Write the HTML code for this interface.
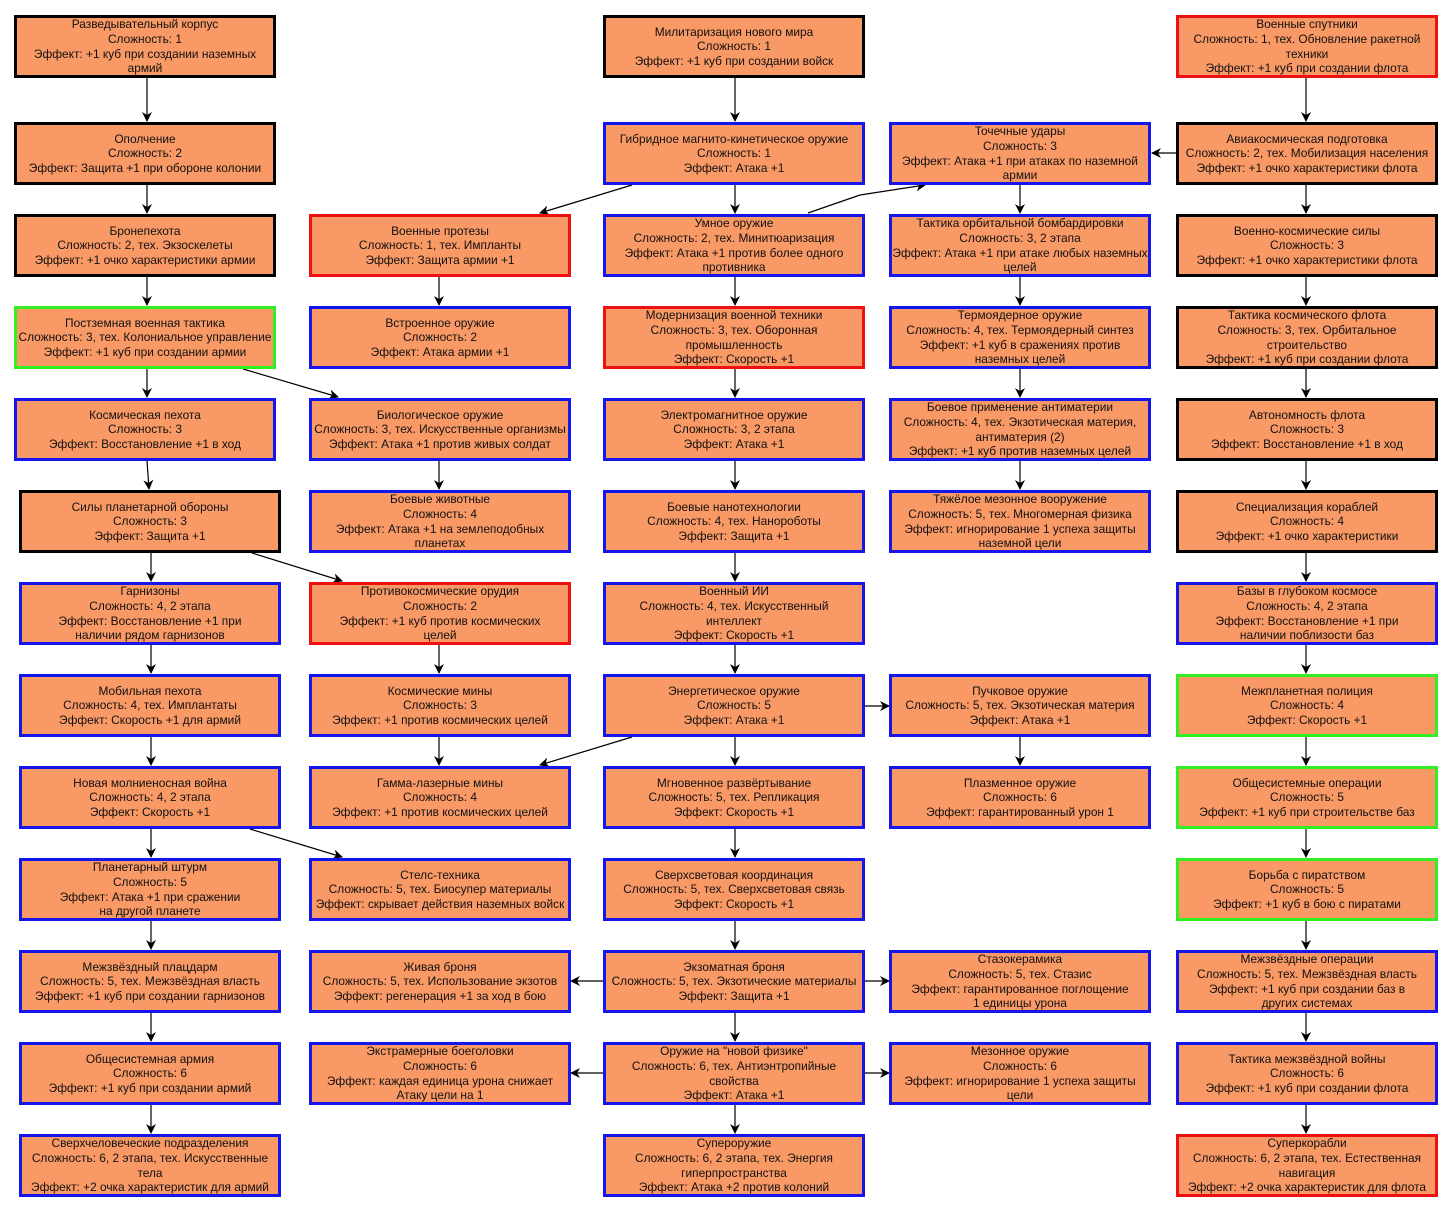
<!DOCTYPE html>
<html><head><meta charset="utf-8"><style>
body{margin:0;width:1452px;height:1213px;background:#fff;position:relative;overflow:hidden;font-family:"Liberation Sans",Arial,sans-serif}
.b{position:absolute;width:262px;height:63px;box-sizing:border-box;border:3px solid #000;background:#f99966;display:flex;flex-direction:column;justify-content:center;align-items:center;text-align:center;font-size:11.9px;line-height:14.6px;color:#111;overflow:hidden;white-space:nowrap}
.u{border-color:#1515ee}.r{border-color:#ee1111}.g{border-color:#33ee22}
svg{position:absolute;left:0;top:0}
</style></head><body>
<svg width="1452" height="1213"><defs><marker id="a" markerWidth="10" markerHeight="10" refX="9" refY="5" orient="auto" markerUnits="userSpaceOnUse"><path d="M0,0 L10,5 L0,10 L3,5 z" fill="#000"/></marker></defs>
<g stroke="#000" stroke-width="1.2" fill="none" marker-end="url(#a)">
<line x1="147" y1="78" x2="147" y2="121"/><line x1="147" y1="185" x2="147" y2="213"/><line x1="147" y1="277" x2="147" y2="305"/><line x1="147" y1="369" x2="147" y2="397"/><line x1="147" y1="461" x2="149" y2="489"/><line x1="151" y1="553" x2="151" y2="581"/><line x1="151" y1="645" x2="151" y2="673"/><line x1="151" y1="737" x2="151" y2="765"/><line x1="151" y1="829" x2="151" y2="857"/><line x1="151" y1="921" x2="151" y2="949"/><line x1="151" y1="1013" x2="151" y2="1041"/><line x1="151" y1="1105" x2="151" y2="1133"/>
<line x1="439" y1="277" x2="439" y2="305"/><line x1="439" y1="461" x2="439" y2="489"/><line x1="439" y1="645" x2="439" y2="673"/><line x1="439" y1="737" x2="439" y2="765"/>
<line x1="735" y1="78" x2="735" y2="121"/><line x1="735" y1="185" x2="735" y2="213"/><line x1="735" y1="277" x2="735" y2="305"/><line x1="735" y1="369" x2="735" y2="397"/><line x1="735" y1="461" x2="735" y2="489"/><line x1="735" y1="553" x2="735" y2="581"/><line x1="735" y1="645" x2="735" y2="673"/><line x1="735" y1="737" x2="735" y2="765"/><line x1="735" y1="829" x2="735" y2="857"/><line x1="735" y1="921" x2="735" y2="949"/><line x1="735" y1="1013" x2="735" y2="1041"/><line x1="735" y1="1105" x2="735" y2="1133"/>
<line x1="1020" y1="185" x2="1020" y2="213"/><line x1="1020" y1="277" x2="1020" y2="305"/><line x1="1020" y1="369" x2="1020" y2="397"/><line x1="1020" y1="461" x2="1020" y2="489"/><line x1="1020" y1="737" x2="1020" y2="765"/>
<line x1="1306" y1="78" x2="1306" y2="121"/><line x1="1306" y1="185" x2="1306" y2="213"/><line x1="1306" y1="277" x2="1306" y2="305"/><line x1="1306" y1="369" x2="1306" y2="397"/><line x1="1306" y1="461" x2="1306" y2="489"/><line x1="1306" y1="553" x2="1306" y2="581"/><line x1="1306" y1="645" x2="1306" y2="673"/><line x1="1306" y1="737" x2="1306" y2="765"/><line x1="1306" y1="829" x2="1306" y2="857"/><line x1="1306" y1="921" x2="1306" y2="949"/><line x1="1306" y1="1013" x2="1306" y2="1041"/><line x1="1306" y1="1105" x2="1306" y2="1133"/>
<line x1="1176" y1="153" x2="1152" y2="153"/>
<line x1="865" y1="706" x2="889" y2="706"/>
<line x1="603" y1="981" x2="571" y2="981"/><line x1="865" y1="981" x2="889" y2="981"/>
<line x1="603" y1="1073" x2="571" y2="1073"/><line x1="865" y1="1073" x2="889" y2="1073"/>
<line x1="632" y1="185" x2="540" y2="213"/>
<polyline points="808,213 860,195 925,185"/>
<line x1="243" y1="369" x2="338" y2="397"/>
<line x1="252" y1="553" x2="342" y2="581"/>
<line x1="632" y1="737" x2="540" y2="765"/>
<line x1="250" y1="829" x2="342" y2="857"/>
</g></svg>

<div class="b" style="left:14px;top:15px">Разведывательный корпус<br>Сложность: 1<br>Эффект: +1 куб при создании наземных<br>армий</div>
<div class="b" style="left:14px;top:122px">Ополчение<br>Сложность: 2<br>Эффект: Защита +1 при обороне колонии</div>
<div class="b" style="left:14px;top:214px">Бронепехота<br>Сложность: 2, тех. Экзоскелеты<br>Эффект: +1 очко характеристики армии</div>
<div class="b g" style="left:14px;top:306px">Постземная военная тактика<br>Сложность: 3, тех. Колониальное управление<br>Эффект: +1 куб при создании армии</div>
<div class="b u" style="left:14px;top:398px">Космическая пехота<br>Сложность: 3<br>Эффект: Восстановление +1 в ход</div>
<div class="b" style="left:19px;top:490px">Силы планетарной обороны<br>Сложность: 3<br>Эффект: Защита +1</div>
<div class="b u" style="left:19px;top:582px">Гарнизоны<br>Сложность: 4, 2 этапа<br>Эффект: Восстановление +1 при<br>наличии рядом гарнизонов</div>
<div class="b u" style="left:19px;top:674px">Мобильная пехота<br>Сложность: 4, тех. Имплантаты<br>Эффект: Скорость +1 для армий</div>
<div class="b u" style="left:19px;top:766px">Новая молниеносная война<br>Сложность: 4, 2 этапа<br>Эффект: Скорость +1</div>
<div class="b u" style="left:19px;top:858px">Планетарный штурм<br>Сложность: 5<br>Эффект: Атака +1 при сражении<br>на другой планете</div>
<div class="b u" style="left:19px;top:950px">Межзвёздный плацдарм<br>Сложность: 5, тех. Межзвёздная власть<br>Эффект: +1 куб при создании гарнизонов</div>
<div class="b u" style="left:19px;top:1042px">Общесистемная армия<br>Сложность: 6<br>Эффект: +1 куб при создании армий</div>
<div class="b u" style="left:19px;top:1134px">Сверхчеловеческие подразделения<br>Сложность: 6, 2 этапа, тех. Искусственные<br>тела<br>Эффект: +2 очка характеристик для армий</div>

<div class="b r" style="left:309px;top:214px">Военные протезы<br>Сложность: 1, тех. Импланты<br>Эффект: Защита армии +1</div>
<div class="b u" style="left:309px;top:306px">Встроенное оружие<br>Сложность: 2<br>Эффект: Атака армии +1</div>
<div class="b u" style="left:309px;top:398px">Биологическое оружие<br>Сложность: 3, тех. Искусственные организмы<br>Эффект: Атака +1 против живых солдат</div>
<div class="b u" style="left:309px;top:490px">Боевые животные<br>Сложность: 4<br>Эффект: Атака +1 на землеподобных<br>планетах</div>
<div class="b r" style="left:309px;top:582px">Противокосмические орудия<br>Сложность: 2<br>Эффект: +1 куб против космических<br>целей</div>
<div class="b u" style="left:309px;top:674px">Космические мины<br>Сложность: 3<br>Эффект: +1 против космических целей</div>
<div class="b u" style="left:309px;top:766px">Гамма-лазерные мины<br>Сложность: 4<br>Эффект: +1 против космических целей</div>
<div class="b u" style="left:309px;top:858px">Стелс-техника<br>Сложность: 5, тех. Биосупер материалы<br>Эффект: скрывает действия наземных войск</div>
<div class="b u" style="left:309px;top:950px">Живая броня<br>Сложность: 5, тех. Использование экзотов<br>Эффект: регенерация +1 за ход в бою</div>
<div class="b u" style="left:309px;top:1042px">Экстрамерные боеголовки<br>Сложность: 6<br>Эффект: каждая единица урона снижает<br>Атаку цели на 1</div>

<div class="b" style="left:603px;top:15px">Милитаризация нового мира<br>Сложность: 1<br>Эффект: +1 куб при создании войск</div>
<div class="b u" style="left:603px;top:122px">Гибридное магнито-кинетическое оружие<br>Сложность: 1<br>Эффект: Атака +1</div>
<div class="b u" style="left:603px;top:214px">Умное оружие<br>Сложность: 2, тех. Минитюаризация<br>Эффект: Атака +1 против более одного<br>противника</div>
<div class="b r" style="left:603px;top:306px">Модернизация военной техники<br>Сложность: 3, тех. Оборонная<br>промышленность<br>Эффект: Скорость +1</div>
<div class="b u" style="left:603px;top:398px">Электромагнитное оружие<br>Сложность: 3, 2 этапа<br>Эффект: Атака +1</div>
<div class="b u" style="left:603px;top:490px">Боевые нанотехнологии<br>Сложность: 4, тех. Нанороботы<br>Эффект: Защита +1</div>
<div class="b u" style="left:603px;top:582px">Военный ИИ<br>Сложность: 4, тех. Искусственный<br>интеллект<br>Эффект: Скорость +1</div>
<div class="b u" style="left:603px;top:674px">Энергетическое оружие<br>Сложность: 5<br>Эффект: Атака +1</div>
<div class="b u" style="left:603px;top:766px">Мгновенное развёртывание<br>Сложность: 5, тех. Репликация<br>Эффект: Скорость +1</div>
<div class="b u" style="left:603px;top:858px">Сверхсветовая координация<br>Сложность: 5, тех. Сверхсветовая связь<br>Эффект: Скорость +1</div>
<div class="b u" style="left:603px;top:950px">Экзоматная броня<br>Сложность: 5, тех. Экзотические материалы<br>Эффект: Защита +1</div>
<div class="b u" style="left:603px;top:1042px">Оружие на "новой физике"<br>Сложность: 6, тех. Антиэнтропийные<br>свойства<br>Эффект: Атака +1</div>
<div class="b u" style="left:603px;top:1134px">Супероружие<br>Сложность: 6, 2 этапа, тех. Энергия<br>гиперпространства<br>Эффект: Атака +2 против колоний</div>

<div class="b u" style="left:889px;top:122px">Точечные удары<br>Сложность: 3<br>Эффект: Атака +1 при атаках по наземной<br>армии</div>
<div class="b u" style="left:889px;top:214px">Тактика орбитальной бомбардировки<br>Сложность: 3, 2 этапа<br>Эффект: Атака +1 при атаке любых наземных<br>целей</div>
<div class="b u" style="left:889px;top:306px">Термоядерное оружие<br>Сложность: 4, тех. Термоядерный синтез<br>Эффект: +1 куб в сражениях против<br>наземных целей</div>
<div class="b u" style="left:889px;top:398px">Боевое применение антиматерии<br>Сложность: 4, тех. Экзотическая материя,<br>антиматерия (2)<br>Эффект: +1 куб против наземных целей</div>
<div class="b u" style="left:889px;top:490px">Тяжёлое мезонное вооружение<br>Сложность: 5, тех. Многомерная физика<br>Эффект: игнорирование 1 успеха защиты<br>наземной цели</div>
<div class="b u" style="left:889px;top:674px">Пучковое оружие<br>Сложность: 5, тех. Экзотическая материя<br>Эффект: Атака +1</div>
<div class="b u" style="left:889px;top:766px">Плазменное оружие<br>Сложность: 6<br>Эффект: гарантированный урон 1</div>
<div class="b u" style="left:889px;top:950px">Стазокерамика<br>Сложность: 5, тех. Стазис<br>Эффект: гарантированное поглощение<br>1 единицы урона</div>
<div class="b u" style="left:889px;top:1042px">Мезонное оружие<br>Сложность: 6<br>Эффект: игнорирование 1 успеха защиты<br>цели</div>

<div class="b r" style="left:1176px;top:15px">Военные спутники<br>Сложность: 1, тех. Обновление ракетной<br>техники<br>Эффект: +1 куб при создании флота</div>
<div class="b" style="left:1176px;top:122px">Авиакосмическая подготовка<br>Сложность: 2, тех. Мобилизация населения<br>Эффект: +1 очко характеристики флота</div>
<div class="b" style="left:1176px;top:214px">Военно-космические силы<br>Сложность: 3<br>Эффект: +1 очко характеристики флота</div>
<div class="b" style="left:1176px;top:306px">Тактика космического флота<br>Сложность: 3, тех. Орбитальное<br>строительство<br>Эффект: +1 куб при создании флота</div>
<div class="b" style="left:1176px;top:398px">Автономность флота<br>Сложность: 3<br>Эффект: Восстановление +1 в ход</div>
<div class="b" style="left:1176px;top:490px">Специализация кораблей<br>Сложность: 4<br>Эффект: +1 очко характеристики</div>
<div class="b u" style="left:1176px;top:582px">Базы в глубоком космосе<br>Сложность: 4, 2 этапа<br>Эффект: Восстановление +1 при<br>наличии поблизости баз</div>
<div class="b g" style="left:1176px;top:674px">Межпланетная полиция<br>Сложность: 4<br>Эффект: Скорость +1</div>
<div class="b g" style="left:1176px;top:766px">Общесистемные операции<br>Сложность: 5<br>Эффект: +1 куб при строительстве баз</div>
<div class="b g" style="left:1176px;top:858px">Борьба с пиратством<br>Сложность: 5<br>Эффект: +1 куб в бою с пиратами</div>
<div class="b u" style="left:1176px;top:950px">Межзвёздные операции<br>Сложность: 5, тех. Межзвёздная власть<br>Эффект: +1 куб при создании баз в<br>других системах</div>
<div class="b u" style="left:1176px;top:1042px">Тактика межзвёздной войны<br>Сложность: 6<br>Эффект: +1 куб при создании флота</div>
<div class="b r" style="left:1176px;top:1134px">Суперкорабли<br>Сложность: 6, 2 этапа, тех. Естественная<br>навигация<br>Эффект: +2 очка характеристик для флота</div>
</body></html>
